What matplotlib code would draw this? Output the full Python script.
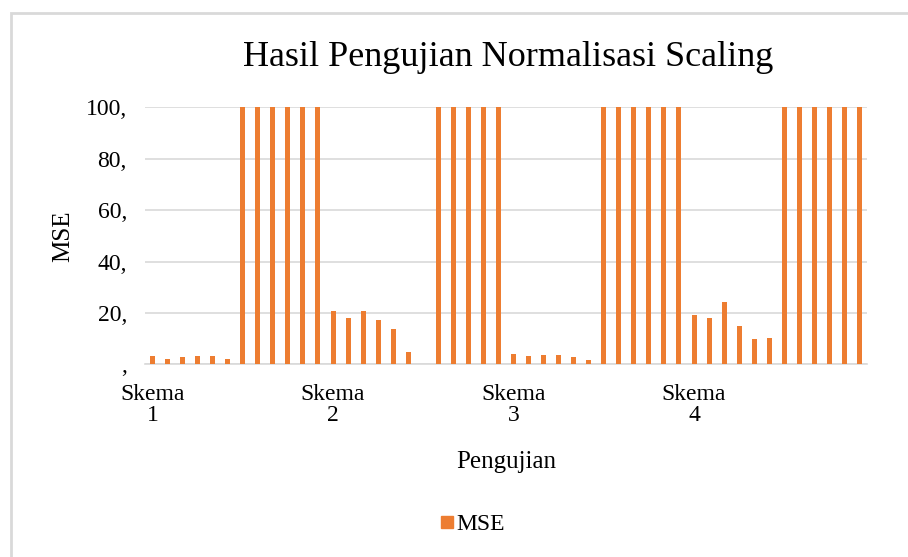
import numpy as np
import matplotlib.pyplot as plt
from matplotlib.patches import Rectangle
from matplotlib.lines import Line2D
from matplotlib.ticker import FuncFormatter

## data (values above 100 are cut at the axis max)
skema_labels = ['Skema\n1', 'Skema\n2', 'Skema\n3', 'Skema\n4']
per_skema = 12
mse = [3.2, 2.0, 2.7, 3.2, 3.1, 1.9,
       100, 100, 100, 100, 100, 100,
       20.7, 18.0, 20.7, 17.4, 13.9, 4.8,
       0, 100, 100, 100, 100, 100,
       4.1, 3.2, 3.5, 3.5, 3.0, 1.5,
       100, 100, 100, 100, 100, 100,
       19.2, 18.0, 24.2, 15.0, 9.8, 10.2,
       100, 100, 100, 100, 100, 100]

orange = '#ED7D31'
grid_c = '#D9D9D9'

plt.rcParams['font.family'] = ['Liberation Serif', 'DejaVu Serif']

fig = plt.figure(figsize=(9.08, 5.57), dpi=100)
W, H = 908, 557

# chart border (light grey frame, runs off the right/bottom edge)
fig.patches.append(Rectangle((10.5 / W, 0 - 0.05), 1.0, (H - 12.5) / H + 0.05,
                             transform=fig.transFigure, fill=False,
                             edgecolor='#D9D9D9', linewidth=2.0))

ax = fig.add_axes([145 / W, (H - 364.3) / H, 722 / W, (364.3 - 107.3) / H])
x = np.arange(len(mse))
ax.bar(x, mse, width=0.33, color=orange, zorder=3)

ax.set_xlim(-0.5, len(mse) - 0.5)
ax.set_ylim(0, 100)
ax.set_yticks(np.arange(0, 101, 20))
ax.yaxis.set_major_formatter(FuncFormatter(lambda v, p: f'{int(v)},' if v else ','))
ax.set_xticks(np.arange(len(skema_labels)) * per_skema)
ax.set_xticklabels(skema_labels, fontsize=17, linespacing=1.0)
ax.tick_params(axis='y', labelsize=17, length=0, pad=13)
ax.tick_params(axis='x', length=0, pad=14)

ax.grid(axis='y', color=grid_c, linewidth=1.2, zorder=0)
for s in ['top', 'right', 'left']:
    ax.spines[s].set_visible(False)
ax.spines['bottom'].set_color(grid_c)
ax.spines['bottom'].set_linewidth(1.2)

ax.set_ylabel('MSE', fontsize=18, labelpad=8)
ax.set_xlabel('Pengujian', fontsize=18, labelpad=18)
fig.text(508 / W, 1 - 58 / H, 'Hasil Pengujian Normalisasi Scaling',
         ha='center', va='center', fontsize=26)

handle = Line2D([], [], marker='s', linestyle='none', markersize=8,
                markerfacecolor=orange, markeredgecolor=orange)
fig.legend([handle], ['MSE'], loc='center', bbox_to_anchor=(472 / W, 1 - 524 / H),
           frameon=False, fontsize=17, handlelength=0.6, handletextpad=0.1)

fig.savefig('out.png', dpi=100)
